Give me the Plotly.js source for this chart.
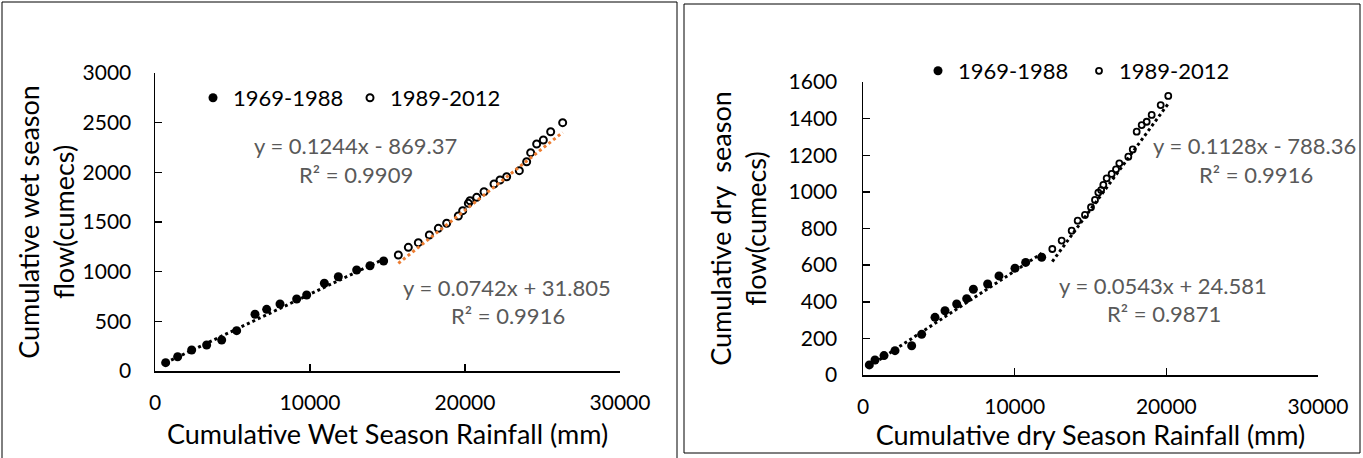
<!DOCTYPE html>
<html>
<head>
<meta charset="utf-8">
<script src="https://cdn.plot.ly/plotly-3.0.1.min.js"></script>
<style>
html,body{margin:0;padding:0;background:#fff;}
#chart{width:1363px;height:458px;}
</style>
</head>
<body>
<div id="chart"></div>
<script>
// ---------- data ----------
const seriesNames = ["1969-1988", "1989-2012"];

// Left panel: wet season
const wetEarlyRain = [688, 1462, 2366, 3333, 4301, 5269, 6452, 7204, 8065, 9140, 9785, 10925, 11828, 13011, 13871, 14750];
const wetEarlyFlow = [84, 144, 211, 262, 312, 406, 571, 621, 674, 725, 765, 883, 949, 1017, 1060, 1107];
const wetLateRain = [15699, 16344, 16989, 17699, 18280, 18817, 19570, 19850, 20215, 20323, 20753, 21227, 21872, 22259, 22688, 23505, 23978, 24236, 24624, 25054, 25527, 26301];
const wetLateFlow = [1168, 1245, 1292, 1369, 1436, 1487, 1560, 1614, 1688, 1714, 1748, 1805, 1882, 1923, 1956, 2017, 2107, 2198, 2285, 2325, 2409, 2500];

// Right panel: dry season
const dryEarlyRain = [417, 791, 1385, 2110, 3209, 3868, 4747, 5406, 6177, 6837, 7277, 8219, 8967, 10021, 10726, 11781];
const dryEarlyFlow = [55, 82, 106, 133, 160, 222, 315, 351, 388, 417, 468, 497, 541, 583, 615, 643];
const dryLateRain = [12481, 13099, 13759, 14154, 14636, 15032, 15296, 15516, 15700, 15845, 16066, 16395, 16681, 16901, 17494, 17785, 18045, 18375, 18705, 19034, 19628, 20127];
const dryLateFlow = [688, 734, 788, 843, 874, 916, 956, 996, 1010, 1038, 1074, 1098, 1123, 1156, 1192, 1232, 1329, 1365, 1383, 1420, 1474, 1524];

// Linear trendline fits [slope, intercept] and R²
const wetEarlyFit = [0.0742, 31.805];
const wetLateFit = [0.1244, -869.37];
const dryEarlyFit = [0.0543, 24.581];
const dryLateFit = [0.1128, -788.36];
const wetEarlyR2 = "0.9916";
const wetLateR2 = "0.9909";
const dryEarlyR2 = "0.9871";
const dryLateR2 = "0.9916";

// Axis ticks
const xTicks = [0, 10000, 20000, 30000];
const xTickLabels = ["0", "10000", "20000", "30000"];
const wetYTicks = [0, 500, 1000, 1500, 2000, 2500, 3000];
const dryYTicks = [0, 200, 400, 600, 800, 1000, 1200, 1400, 1600];

// ---------- helpers ----------
const W = 1363, H = 458;
const px = x => x / W;
const py = y => 1 - y / H;
const FONT = "Lato, 'Open Sans', sans-serif";

function fitLine(xs, fit) {
  const lo = Math.min(...xs), hi = Math.max(...xs);
  return { x: [lo, hi], y: [fit[0] * lo + fit[1], fit[0] * hi + fit[1]] };
}
function eqText(fit) {
  const sign = fit[1] < 0 ? " - " : " + ";
  return "y = " + fit[0] + "x" + sign + Math.abs(fit[1]);
}

const fWE = fitLine(wetEarlyRain, wetEarlyFit);
const fWL = fitLine(wetLateRain, wetLateFit);
const fDE = fitLine(dryEarlyRain, dryEarlyFit);
const fDL = fitLine(dryLateRain, dryLateFit);

const traces = [
  { x: wetEarlyRain, y: wetEarlyFlow, name: seriesNames[0], type: "scatter", mode: "markers",
    marker: { symbol: "circle", size: 9, color: "#000" }, xaxis: "x", yaxis: "y", legend: "legend" },
  { x: wetLateRain, y: wetLateFlow, name: seriesNames[1], type: "scatter", mode: "markers",
    marker: { symbol: "circle-open", size: 7, color: "#000", line: { width: 2, color: "#000" } },
    xaxis: "x", yaxis: "y", legend: "legend" },
  { x: fWE.x, y: fWE.y, type: "scatter", mode: "lines", showlegend: false, hoverinfo: "skip",
    line: { color: "#000", width: 3, dash: "dot" }, xaxis: "x", yaxis: "y" },
  { x: fWL.x, y: fWL.y, type: "scatter", mode: "lines", showlegend: false, hoverinfo: "skip",
    line: { color: "#ED7D31", width: 3, dash: "dot" }, xaxis: "x", yaxis: "y" },

  { x: dryEarlyRain, y: dryEarlyFlow, name: seriesNames[0], type: "scatter", mode: "markers",
    marker: { symbol: "circle", size: 9, color: "#000" }, xaxis: "x2", yaxis: "y2", legend: "legend2" },
  { x: dryLateRain, y: dryLateFlow, name: seriesNames[1], type: "scatter", mode: "markers",
    marker: { symbol: "circle-open", size: 6, color: "#000", line: { width: 1.8, color: "#000" } },
    xaxis: "x2", yaxis: "y2", legend: "legend2" },
  { x: fDE.x, y: fDE.y, type: "scatter", mode: "lines", showlegend: false, hoverinfo: "skip",
    line: { color: "#000", width: 3, dash: "dot" }, xaxis: "x2", yaxis: "y2" },
  { x: fDL.x, y: fDL.y, type: "scatter", mode: "lines", showlegend: false, hoverinfo: "skip",
    line: { color: "#000", width: 3, dash: "dot" }, xaxis: "x2", yaxis: "y2" }
];

const axisCommon = {
  showgrid: false, zeroline: false, showline: true, linecolor: "#000", linewidth: 1.5,
  ticks: "inside", ticklen: 7, tickwidth: 1.5, tickcolor: "#000",
  tickfont: { family: FONT, size: 21, color: "#000" }, automargin: false, fixedrange: true
};

const titleFont = { family: FONT, size: 27, color: "#000" };

const layout = {
  width: W, height: H,
  margin: { l: 0, r: 0, t: 0, b: 0 },
  paper_bgcolor: "#fff", plot_bgcolor: "rgba(0,0,0,0)",
  font: { family: FONT, color: "#000" },
  xaxis: Object.assign({}, axisCommon, {
    domain: [px(155), px(620)], range: [0, 30000], tickvals: xTicks, ticktext: xTickLabels, anchor: "y",
    ticklabelstandoff: 12,
    title: { text: "Cumulative Wet Season Rainfall (mm)", font: titleFont, standoff: 12 }
  }),
  yaxis: Object.assign({}, axisCommon, {
    domain: [py(371), py(73)], range: [0, 3000], tickvals: wetYTicks, anchor: "x",
    ticklabelstandoff: 18,
    title: { text: "Cumulative wet season<br>flow(cumecs)", font: titleFont, standoff: 0 }
  }),
  xaxis2: Object.assign({}, axisCommon, {
    domain: [px(863), px(1318)], range: [0, 30000], tickvals: xTicks, ticktext: xTickLabels, anchor: "y2",
    ticklabelstandoff: 12,
    title: { text: "Cumulative dry Season Rainfall (mm)", font: titleFont, standoff: 0 }
  }),
  yaxis2: Object.assign({}, axisCommon, {
    domain: [py(375), py(82)], range: [0, 1600], tickvals: dryYTicks, anchor: "x2",
    ticklabelstandoff: 20,
    title: { text: "Cumulative dry  season<br>flow(cumecs)", font: titleFont, standoff: 14 }
  }),
  showlegend: true,
  legend: {
    x: px(193), y: py(98), xanchor: "left", yanchor: "middle", orientation: "h",
    bgcolor: "rgba(0,0,0,0)", font: { family: FONT, size: 22, color: "#000" },
    itemwidth: 30, entrywidth: 112, entrywidthmode: "pixels", traceorder: "normal"
  },
  legend2: {
    x: px(918), y: py(71), xanchor: "left", yanchor: "middle", orientation: "h",
    bgcolor: "rgba(0,0,0,0)", font: { family: FONT, size: 22, color: "#000" },
    itemwidth: 30, entrywidth: 116, entrywidthmode: "pixels", traceorder: "normal"
  },
  annotations: [
    { text: eqText(wetLateFit), x: px(355), y: py(146) },
    { text: "R² = " + wetLateR2, x: px(356), y: py(174) },
    { text: eqText(wetEarlyFit), x: px(507), y: py(287) },
    { text: "R² = " + wetEarlyR2, x: px(508), y: py(315) },
    { text: eqText(dryLateFit), x: px(1254), y: py(146) },
    { text: "R² = " + dryLateR2, x: px(1256), y: py(174) },
    { text: eqText(dryEarlyFit), x: px(1163), y: py(285) },
    { text: "R² = " + dryEarlyR2, x: px(1164), y: py(313) }
  ].map(a => Object.assign({
    xref: "paper", yref: "paper", xanchor: "center", yanchor: "middle", showarrow: false,
    font: { family: FONT, size: 22, color: "#595959" }
  }, a)),
  shapes: [
    { type: "rect", xref: "paper", yref: "paper", x0: px(2), x1: px(677), y0: -0.05, y1: py(2),
      line: { color: "#000", width: 1 }, fillcolor: "rgba(0,0,0,0)", layer: "below" },
    { type: "rect", xref: "paper", yref: "paper", x0: px(684), x1: px(1360), y0: py(453), y1: py(4),
      line: { color: "#000", width: 1 }, fillcolor: "rgba(0,0,0,0)", layer: "below" }
  ]
};

Plotly.newPlot("chart", traces, layout, { displayModeBar: false, staticPlot: true });
</script>
</body>
</html>
